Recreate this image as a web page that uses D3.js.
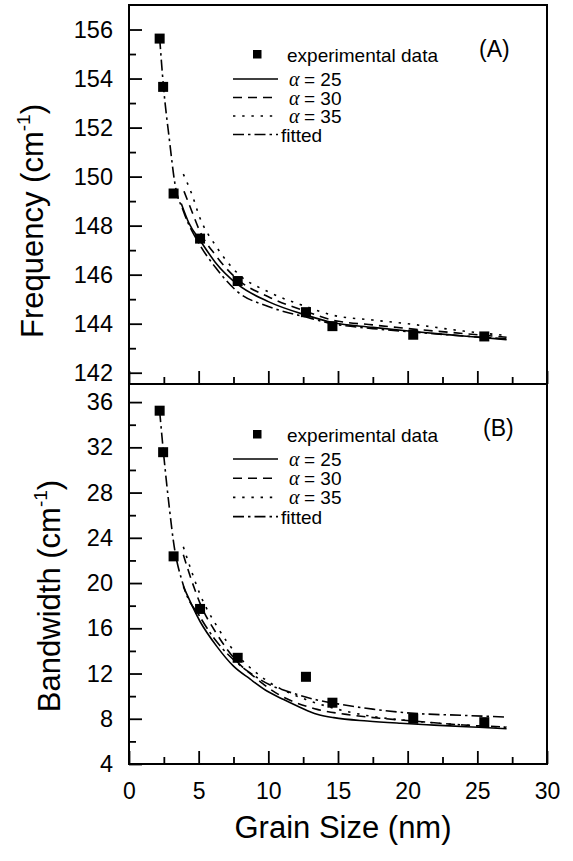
<!DOCTYPE html>
<html>
<head>
<meta charset="utf-8">
<script src="https://cdn.jsdelivr.net/npm/d3@7"></script>
<style>
  body { margin: 0; background: #fff; }
  svg { font-family: "Liberation Sans", Arial, Helvetica, sans-serif; }
</style>
</head>
<body>
<div id="chart"></div>
<script>
// Step 1: Data
const grainSize = [2.2, 2.45, 3.2, 5.1, 7.8, 12.7, 14.6, 20.4, 25.5];
const freqExp = [155.63, 153.66, 149.31, 147.47, 145.74, 144.47, 143.9, 143.55, 143.48];
const bwExp = [35.24, 31.57, 22.36, 17.71, 13.39, 11.71, 9.42, 8.0, 7.7];

// model curves, [grain size, value]
const freqAlpha25 = [[3.75, 148.9], [4.3, 148.1], [5.1, 147.4], [6.2, 146.5], [7.8, 145.6], [10, 144.9], [12.7, 144.35], [14.6, 144.05], [17.5, 143.85], [20.4, 143.68], [24, 143.5], [27.1, 143.35]];
const freqAlpha30 = [[3.95, 149.4], [4.5, 148.6], [5.1, 147.75], [6.2, 146.8], [7.8, 145.8], [10, 145.1], [12.7, 144.5], [14.6, 144.15], [17.5, 143.95], [20.4, 143.78], [24, 143.6], [27.1, 143.45]];
const freqAlpha35 = [[3.9, 150.1], [4.5, 149.3], [5.1, 148.3], [6.2, 147.2], [7.8, 146.05], [10, 145.3], [12.7, 144.7], [14.6, 144.35], [17.5, 144.15], [20.4, 143.97], [24, 143.7], [27.1, 143.52]];
const freqFitted = [[2.2, 155.65], [2.47, 153.7], [2.9, 151.5], [3.3, 149.7], [3.9, 148.6], [5.1, 147.2], [6.2, 146.3], [7.8, 145.3], [10, 144.7], [12.7, 144.27], [14.6, 144.0], [17.5, 143.8], [20.4, 143.66], [24, 143.5], [27.1, 143.38]];

const bwAlpha25 = [[3.9, 19.7], [5.1, 16.6], [6.3, 14.4], [7.5, 12.65], [8.7, 11.5], [9.9, 10.45], [11.1, 9.7], [12.3, 9.0], [13.5, 8.4], [14.7, 8.1], [17.1, 7.8], [19.5, 7.6], [21.9, 7.44], [24.2, 7.3], [27.1, 7.12]];
const bwAlpha30 = [[3.9, 22.5], [4.5, 20.2], [5.1, 18.2], [6.3, 15.5], [7.8, 13.0], [9.0, 11.7], [9.6, 11.1], [10.8, 10.1], [12.0, 9.42], [13.5, 8.83], [15.6, 8.39], [18, 8.05], [20.4, 7.8], [24, 7.45], [27.1, 7.27]];
const bwAlpha35 = [[3.9, 23.2], [4.5, 21.0], [5.1, 19.0], [6.3, 16.2], [7.8, 13.6], [9.0, 12.2], [10.1, 11.2], [11.3, 10.4], [12.7, 9.7], [14.5, 9.0], [17, 8.3], [20.4, 7.8], [24, 7.45], [27.1, 7.25]];
const bwFitted = [[2.2, 35.2], [2.47, 31.6], [2.9, 26.6], [3.2, 23.6], [3.9, 19.8], [5.1, 17.0], [6.3, 14.8], [7.8, 12.9], [9.0, 11.8], [10.1, 11.0], [11.3, 10.45], [13.2, 9.75], [15.2, 9.27], [17.5, 8.85], [20.2, 8.5], [24, 8.3], [27.1, 8.15]];

// tick values
const xTicks = [0, 5, 10, 15, 20, 25, 30];
const xMinor = [2.5, 7.5, 12.5, 17.5, 22.5, 27.5];
const freqTicks = [142, 144, 146, 148, 150, 152, 154, 156];
const freqMinor = [143, 145, 147, 149, 151, 153, 155];
const bwTicks = [4, 8, 12, 16, 20, 24, 28, 32, 36];
const bwMinor = [6, 10, 14, 18, 22, 26, 30, 34];

const legendAlphas = ["25", "30", "35"];

// Step 2: Dimensions
const width = 573;
const height = 861;
const left = 129;
const right = 547;

const svg = d3.select("#chart")
  .append("svg")
  .attr("width", width)
  .attr("height", height);

// Step 3: Scales
const xScale = d3.scaleLinear().domain([0, 30]).range([left, right]);
const yFreq = d3.scaleLinear().domain([141.54, 157]).range([384, 5]);
const yBw = d3.scaleLinear().domain([4, 37.6]).range([764, 384]);

const dashes = [null, "9,6", "2.4,6.8", "11,4,2.5,4"];

function drawPanel(cfg) {
  const g = svg.append("g");
  const [y0, y1] = cfg.y.range();

  // y axis, ticks inward
  const yAxis = g.append("g")
    .attr("transform", `translate(${left},0)`)
    .call(d3.axisLeft(cfg.y).tickValues(cfg.ticks).tickSize(-13).tickPadding(16));
  const yMinor = g.append("g")
    .attr("transform", `translate(${left},0)`)
    .call(d3.axisLeft(cfg.y).tickValues(cfg.minor).tickSize(-7).tickFormat(""));
  [yAxis, yMinor].forEach(a => {
    a.select(".domain").remove();
    a.selectAll("line").attr("stroke", "#000").attr("stroke-width", 1.8);
  });
  yAxis.selectAll("text").attr("font-size", 23.5).attr("fill", "#000")
    .attr("font-family", "Liberation Sans, Arial, sans-serif");

  // x axis at the bottom of the panel
  const xAxis = g.append("g")
    .attr("transform", `translate(0,${y0})`)
    .call(d3.axisBottom(xScale).tickValues(xTicks).tickSize(-13).tickPadding(19)
      .tickFormat(cfg.xLabels ? d3.format("d") : ""));
  const xMin = g.append("g")
    .attr("transform", `translate(0,${y0})`)
    .call(d3.axisBottom(xScale).tickValues(xMinor).tickSize(-7).tickFormat(""));
  [xAxis, xMin].forEach(a => {
    a.select(".domain").remove();
    a.selectAll("line").attr("stroke", "#000").attr("stroke-width", 1.8);
  });
  xAxis.selectAll("text").attr("font-size", 23).attr("fill", "#000")
    .attr("font-family", "Liberation Sans, Arial, sans-serif");

  // curves
  const line = d3.line()
    .x(d => xScale(d[0]))
    .y(d => cfg.y(d[1]))
    .curve(d3.curveMonotoneX);
  cfg.curves.forEach((c, i) => {
    g.append("path")
      .datum(c)
      .attr("d", line)
      .attr("fill", "none")
      .attr("stroke", "#000")
      .attr("stroke-width", 1.6)
      .attr("stroke-dasharray", dashes[i]);
  });

  // experimental points
  g.selectAll(".pt")
    .data(grainSize.map((gs, i) => [gs, cfg.exp[i]]))
    .enter()
    .append("rect")
    .attr("x", d => xScale(d[0]) - 5)
    .attr("y", d => cfg.y(d[1]) - 5)
    .attr("width", 10)
    .attr("height", 10)
    .attr("fill", "#000");

  // frame
  g.append("rect")
    .attr("x", left).attr("y", y1)
    .attr("width", right - left).attr("height", y0 - y1)
    .attr("fill", "none").attr("stroke", "#000").attr("stroke-width", 2);

  // legend
  const lt = y1 + cfg.legendOffset;
  g.append("rect")
    .attr("x", 253).attr("y", lt + 45)
    .attr("width", 8.5).attr("height", 8.5)
    .attr("fill", "#000");
  g.append("text")
    .attr("x", 287).attr("y", lt + 56.7)
    .attr("font-size", 19)
    .text("experimental data");
  [0, 1, 2, 3].forEach(i => {
    const ly = lt + 74 + i * cfg.rowGap;
    g.append("line")
      .attr("x1", 233).attr("x2", 278)
      .attr("y1", ly).attr("y2", ly)
      .attr("stroke", "#000").attr("stroke-width", 1.6)
      .attr("stroke-dasharray", dashes[i]);
    if (i < 3) {
      g.append("text")
        .attr("x", 289).attr("y", ly + 7)
        .attr("font-family", "Liberation Serif, Times New Roman, serif")
        .attr("font-style", "italic")
        .attr("font-size", 20)
        .text("α");
      g.append("text")
        .attr("x", 304).attr("y", ly + 7)
        .attr("font-size", 19)
        .text("= " + legendAlphas[i]);
    } else {
      g.append("text")
        .attr("x", 281).attr("y", ly + 7)
        .attr("font-size", 19)
        .text("fitted");
    }
  });

  // panel label
  g.append("text")
    .attr("x", cfg.tagX).attr("y", y1 + 52)
    .attr("font-size", 23)
    .text(cfg.tag);

  // y title
  const title = g.append("text")
    .attr("transform", `translate(${cfg.titleX},${cfg.titleY}) rotate(-90)`)
    .attr("text-anchor", "middle")
    .attr("font-size", 31)
    .text(cfg.title + " (cm");
  title.append("tspan").attr("font-size", 19).attr("dy", -13).text("-1");
  title.append("tspan").attr("dy", 13).text(")");
}

// Step 4: Panels
drawPanel({
  y: yFreq, ticks: freqTicks, minor: freqMinor, exp: freqExp,
  curves: [freqAlpha25, freqAlpha30, freqAlpha35, freqFitted],
  xLabels: false, tag: "(A)", tagX: 479, legendOffset: 0, rowGap: 18.5,
  title: "Frequency", titleX: 43, titleY: 221
});
drawPanel({
  y: yBw, ticks: bwTicks, minor: bwMinor, exp: bwExp,
  curves: [bwAlpha25, bwAlpha30, bwAlpha35, bwFitted],
  xLabels: true, tag: "(B)", tagX: 483, legendOffset: 1, rowGap: 19.2,
  title: "Bandwidth", titleX: 60, titleY: 596
});

// Step 5: x title
svg.append("text")
  .attr("x", 343).attr("y", 838)
  .attr("text-anchor", "middle")
  .attr("font-size", 31)
  .text("Grain Size (nm)");
</script>
</body>
</html>
